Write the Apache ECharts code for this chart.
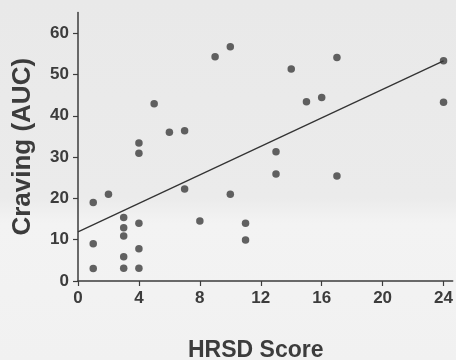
<!DOCTYPE html>
<html>
<head>
<meta charset="utf-8">
<script src="https://cdn.jsdelivr.net/npm/echarts@6/dist/echarts.min.js"></script>
<style>
  html, body { margin: 0; padding: 0; background: #efefef; }
  #chart { width: 456px; height: 360px; }
</style>
</head>
<body>
<div id="chart"></div>
<script>
(function () {
	// HRSD score (x) and craving AUC (y)
	var hrsd = [1, 1, 1, 2, 3, 3, 3, 3, 3, 4, 4, 4, 4, 4, 5, 6, 7, 7, 8, 9, 10, 10, 11, 11, 13, 13, 14, 15, 16, 17, 17, 24, 24];
	var craving = [19, 9, 3, 21, 15.4, 12.9, 10.9, 5.9, 3.1, 14, 7.8, 3.1, 33.4, 30.9, 42.9, 36, 36.4, 22.3, 14.5, 54.3, 56.7, 21, 14, 9.9, 31.3, 25.9, 51.3, 43.4, 44.4, 54.1, 25.4, 53.3, 43.3];

	// fitted regression line end points
	var fitX = [0, 24];
	var fitY = [11.9, 53.3];

	// tick labels
	var xTicks = [0, 4, 8, 12, 16, 20, 24];
	var yTicks = [0, 10, 20, 30, 40, 50, 60];

	var points = [];
	for (var i = 0; i < hrsd.length; i++) {
		points.push([hrsd[i], craving[i]]);
	}
	var fit = [];
	for (var j = 0; j < fitX.length; j++) {
		fit.push([fitX[j], fitY[j]]);
	}

	var ink = '#3c3c3c';
	var font = 'Liberation Sans, Arial, sans-serif';

	var chart = echarts.init(document.getElementById('chart'));
	chart.setOption({
		backgroundColor: {
			type: 'linear', x: 0, y: 0, x2: 0, y2: 1,
			colorStops: [
				{offset: 0, color: '#e9e9e9'},
				{offset: 0.55, color: '#ebebeb'},
				{offset: 0.62, color: '#f3f3f3'},
				{offset: 1, color: '#f1f1f1'}
			]
		},
		animation: false,
		grid: {left: 78, right: 0, top: 12.5, bottom: 79},
		title: {
			text: 'HRSD Score',
			left: 183,
			top: 334,
			textStyle: {fontFamily: font, fontWeight: 'bold', fontSize: 23, color: ink}
		},
		xAxis: {
			type: 'value',
			min: 0,
			max: 24.6,
			splitLine: {show: false},
			axisLine: {onZero: false, lineStyle: {color: ink, width: 1.5}},
			axisTick: {show: true, length: 5, customValues: xTicks, lineStyle: {color: ink, width: 1.2}},
			axisLabel: {
				margin: 9,
				customValues: xTicks,
				fontFamily: font, fontWeight: 'bold', fontSize: 17, color: ink
			}
		},
		yAxis: {
			type: 'value',
			min: 0,
			max: 65,
			name: 'Craving (AUC)',
			nameLocation: 'middle',
			nameGap: 42,
			nameTextStyle: {fontFamily: font, fontWeight: 'bold', fontSize: 26, color: ink},
			splitLine: {show: false},
			axisLine: {show: true, lineStyle: {color: ink, width: 1.5}},
			axisTick: {show: true, length: 5, customValues: yTicks, lineStyle: {color: ink, width: 1.2}},
			axisLabel: {
				margin: 9,
				customValues: yTicks,
				fontFamily: font, fontWeight: 'bold', fontSize: 17, color: ink
			}
		},
		series: [
			{
				type: 'line',
				data: fit,
				symbol: 'none',
				lineStyle: {color: '#333', width: 1.3},
				silent: true
			},
			{
				type: 'scatter',
				data: points,
				symbolSize: 7.5,
				itemStyle: {color: '#3c3c3c'}
			}
		]
	});
})();
</script>
</body>
</html>
